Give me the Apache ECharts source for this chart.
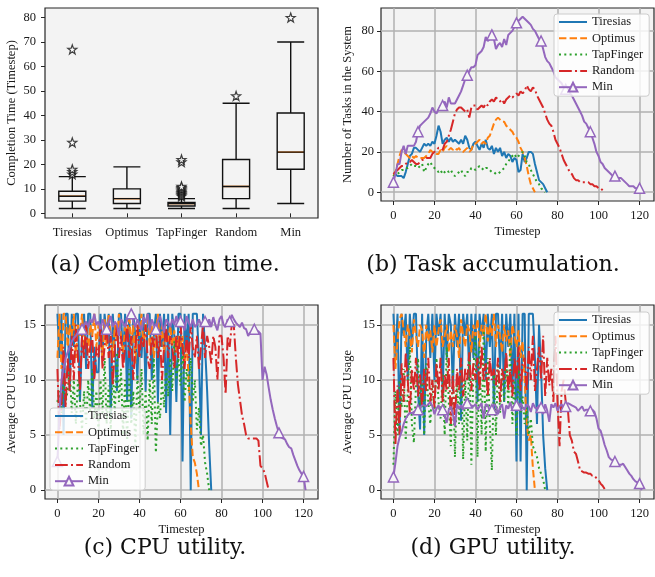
<!DOCTYPE html>
<html lang="en">
<head>
<meta charset="UTF-8">
<title>Scheduling evaluation</title>
<script src="https://cdn.jsdelivr.net/npm/echarts@6.0.0/dist/echarts.min.js"></script>
<style>
  html, body { margin: 0; padding: 0; background: #fff; }
  #main { width: 655px; height: 577px; }
</style>
</head>
<body>
<div id="main"></div>
<script>
// ---- data (a): completion time boxplot ----
var boxNames = ['Tiresias', 'Optimus', 'TapFinger', 'Random', 'Min'];
// [low whisker, Q1, median, Q3, high whisker]
var boxStats = [
    [2, 5, 7, 9, 15],
    [2, 4, 6, 10, 19],
    [2, 3, 4, 4.5, 6],
    [2, 6, 11, 22, 45],
    [4, 18, 25, 41, 70]
];
var boxOutliers = [
    [16, 17, 18, 29, 67],
    [],
    [7, 7.5, 8, 8.5, 9, 9.5, 10, 10.5, 11, 21, 22],
    [48],
    [80]
];
var ticksA = [0, 10, 20, 30, 40, 50, 60, 70, 80];

// ---- data (b): number of tasks in the system, one value per timestep ----
var taskTiresias = [9,9,8,8,8,7,10,14,18,19, 22,22,21,20,22,24,23,24,23,25, 24,28,33,30,24,26,27,25,27,25,
    26,25,24,26,24,28,26,22,21,24, 25,23,21,24,22,26,22,21,23,19, 22,20,22,18,20,17,19,18,15,17,
    16,10,11,19,15,17,20,20,19,14, 10,6,5,4,2,0];
var taskOptimus = [8,10,14,18,21,20,19,18,17,18, 17,18,17,17,17,17,18,19,21,20, 20,19,19,21,20,22,23,21,22,21,
    22,21,22,20,20,21,22,20,21,24, 24,25,26,24,25,24,27,28,31,34, 36,37,36,35,35,33,32,31,30,28,
    27,25,22,20,17,13,8,4,2,0];
var taskTapFinger = [8,9,9,10,11,11,12,12,13,14, 13,13,12,13,14,10,12,14,15,13, 12,11,10,11,9,10,11,10,11,9,
    8,9,10,11,9,8,10,10,12,12, 11,12,13,12,11,12,12,11,10,10, 9,9,10,11,12,14,15,17,18,19,
    17,18,19,20,18,15,14,11,9,7, 5,4,2,1,0];
var taskRandom = [9,10,11,12,13,13,14,15,15,16, 15,14,14,15,16,16,17,17,17,19, 20,21,22,22,21,24,25,28,31,35,
    39,41,42,42,41,40,41,37,42,43, 43,41,42,43,42,44,43,45,46,45, 47,46,45,46,44,46,47,48,47,48,
    49,48,50,49,50,53,51,50,52,51, 48,46,44,42,39,36,34,33,30,26, 24,22,19,16,14,12,10,9,7,6,
    6,5,5,5,5,5,4,4,3,3, 2,2,1,0];
var taskMin = [5,9,14,14,20,23,19,23,23,23, 23,25,30,33,34,35,36,37,39,42, 40,39,41,43,43,45,42,47,44,44,
    44,46,48,50,53,56,58,60,62,62, 63,68,69,70,72,77,75,76,78,76, 71,73,74,72,76,73,78,79,80,82,
    84,85,86,87,86,85,84,83,81,80, 78,76,75,71,67,65,64,62,60,57, 56,55,54,52,51,50,49,48,46,44,
    42,40,38,35,34,32,30,27,24,20, 18,15,14,12,11,10,9,8,8,7, 7,7,6,5,4,3,3,3,2,2, 2,1];

// ---- data (c): average CPU usage ----
var cpuTiresias = [16,12,16,5,16,16,9,16,13,16, 16,8,14,16,11,16,16,7.5,13,10.7, 10.7,16,12,16,14,16,6.5,16,13,9,
    16,16,12,16,8,16,6.5,16,14,10, 16,12,16,9,16,16,10,14,16,8, 16,13,16,7,16,5,16,14,8,16,
    16,2.6,16,13,16,0,16,16,16,12, 5,16,13,9,4,0];
var cpuOptimus = [12,16,11,16,16,13,15,14,16,12, 15,14,16,13,15,12.5,15,14,16,13, 15,14,12,15.5,13,16,14,12,15,13.5,
    16,14,12.5,15,14,16,13,15,11.5,15, 14,16,13,15,16,13,15,12,14,16, 13,15,12.5,14,13.5,15,13,14.5,12.5,14,
    13,14,11.5,13.5,10,6,3,2.5,1.5,0];
var cpuTapFinger = [8,9,7,10,8,9,11,7,10,6, 10,8,5.5,9,6,10,7,11,6.5,9, 5.4,10,7,12,6,9.5,5.5,11,7,12.5,
    8,11,5,10,4.5,11,6,9,4,10.5, 7,11,5,9,4.5,10,6,12,3.4,8, 6.5,10,7.5,11,8.5,12,9,13.5,10,12,
    9.5,13,8,11,9,12,8,10,5.5,7.5, 4,5,2.5,1.5,0];
var cpuRandom = [11,5.5,8,13,7.5,12,9,14,10,15, 12,9,14,12,15,11,13,14,10,13, 12,15,11,13,15,12,14,9.5,13,15,
    12,14,11,13,15,12,14,10,13,15, 12,14,13,15,12,11,14,13,15,12, 14,10,13,15,12,14,13,11,14,12,
    15,13,11,14,12,15,13,12,14,11, 13,15,12,14,13,11.5,14,13,10,14, 14,12,8.7,14,13,15,15,12,9.6,8.2,
    6.8,6,5,4.7,4.7,4.7,4.7,4.7,4.5,2.2, 2,1.6,0.8,0];
var cpuMin = [2.6,7,10,11,12,12.5,13,13.5,13.8,14, 14.3,14.5,14.6,15,15.3,14.8,15.5,15.2,16,15,
    15.3,14.6,15.5,15,14.6,15.3,15.8,14.8,15.3,15, 14,15.5,15.2,14.8,15.5,15.7,16,15.3,14.8,15.5,
    15,14.5,15.7,15.2,16,14.5,15.5,15,14.6,15.3, 15.8,15,14.3,15.5,15.2,14.8,15.5,15,15.8,14.8,
    15.3,15,14.5,15.8,15.2,14.8,15.5,14.8,15,15.5, 15,14.8,15.3,15,15.5,14.8,15.7,15,14.5,15.5,
    15.8,15,14.8,15.5,15.3,15.9,15.5,15.2,15,14.8, 15.2,14.7,14.6,14,14.3,14.4,14.6,14.5,14.4,14.2,
    10,11.2,10.5,9.3,8.2,7.3,6.5,5.8,5.2,4.8, 4.7,4.6,4.2,3.9,3.8,3.2,2.7,2.2,1.8,1.5, 1.25,0];

// ---- data (d): average GPU usage ----
var gpuTiresias = [16,12,16,5,16,14,16,10,16,13, 16,16,9,5.5,16,5,14,16,12,16, 10,16,14,16,8.5,16,12,16,15,9,
    16,13,16,6.3,16,14,16,10,16,12, 16,8,16,14,16,10,16,13,16,7, 16,16,11,16,8,16,13,16,9,16,
    2.6,16,2.6,16,16,0,16,16,16,12, 6,15,11,5,2,0];
var gpuOptimus = [15,11,13.5,15.5,16,14.5,13,15,14,12.5, 15.5,14,13,15,14.5,12,15,13.5,14.5,12.5,
    15,13,14.5,15.5,13,14,15,12.5,14.5,13, 15,14,12,15.5,14,13,15,14.5,12.5,15,
    14,15.5,13,15,14,16,13.5,15,14,16, 13,15,14,12.5,15,13.5,14.5,12,15,14,
    13,14.5,12,13.5,10,6,4.5,5,2,0];
var gpuTapFinger = [2.3,9,5,10,7.5,11,4.5,9,13,6, 4.3,9.5,12,7,10,5,11.5,8,6,10, 7,12,8,6.5,10.5,5,13,8,4,11,
    3,10,6,12,2.8,10,4.5,12.5,2.3,11, 14,3,13,5,14.5,3.5,12,6,1.8,10.5, 5,12,7,11,8,12,7.5,13.5,6,10,
    5,11,7,8.5,6,7.5,5,6.5,4,3.5, 3,2,1.5,1,0];
var gpuRandom = [12,4.2,9.5,5,11.5,8,12.5,10,7,11, 9,12,8.5,10.5,7.5,11,9,12,8,10, 7.5,11.5,9,12,8,10.5,9,12,6,10.5,
    5.8,11,9,12,8.5,11,10,12.5,9,11.5, 10,12,9,13,10,11.5,8.5,12,10,11, 9.5,12,8,11,10,12.5,9,11,8.5,12,
    10,13,9,11.5,12,9,13,10,14,9, 11,13,10,14,8.5,12,9.5,11,8,14, 8,4,9,10,8,7.5,5,4.5,3.5,3.3,
    2.6,1.8,1.7,1.6,1.6,1.5,1.5,1.3,1.3,1.1, 0.9,0.6,0.4,0.1];
var gpuMin = [1.2,2.5,4,4.8,5.3,6,6.5,6.8,7,7, 7.1,7.2,7.3,7.5,7.7,7.7,7.6,7.8,8,7.6,
    6.9,7.4,7.7,7.2,7.3,6.8,6.1,7.3,7.6,6.9, 5.8,7.8,7.4,7.7,7.3,7.9,7.9,7.6,7.7,7.6,
    7.8,7.3,7.6,7.9,6.5,7.8,7.7,7.2,7.3,7.8, 7.6,6.9,7.5,7.8,6.5,7.7,7.4,8,7.2,7.6,
    7.7,7.4,7.9,7.5,7.3,7.8,7.6,7.1,7.9,7.5, 7.4,7.7,7.5,6.9,7.8,7.2,6.2,7.8,7.5,7.9,
    7.2,7.6,7.8,7.4,7.6,7.9,7.8,7.7,7.6,7.5, 7.2,7.4,7.6,7.2,7.3,7.3,7.2,7.3,7.1,6.5,
    5.6,5.4,4.8,4.1,3.6,3.0,2.8,2.7,2.6,2.4, 2.3,2.3,2.4,2.1,1.8,1.5,1.3,1.0,0.8,0.7, 0.6,0];

var ticksTime = [0, 20, 40, 60, 80, 100, 120];
var ticksTasks = [0, 20, 40, 60, 80];
var ticksUsage = [0, 5, 10, 15];
var seriesNames = ['Tiresias', 'Optimus', 'TapFinger', 'Random', 'Min'];

// ---- styles ----
var serif = 'Liberation Serif';
var ink = '#1a1a1a';
var lineStyles = {
    Tiresias: { color: '#1f77b4', type: 'solid' },
    Optimus: { color: '#ff7f0e', type: [7.4, 3.2] },
    TapFinger: { color: '#2ca02c', type: [2, 3.3] },
    Random: { color: '#d62728', type: [12.8, 3.2, 2, 3.2] },
    Min: { color: '#9467bd', type: 'solid' }
};
var starPath = 'path://M0,-10L2.35,-3.24L9.51,-3.09L3.8,1.24L5.88,8.09L0,4L-5.88,8.09L-3.8,1.24L-9.51,-3.09L-2.35,-3.24Z';

function gridAt(left, top, width, height) {
    return {
        left: left, top: top, width: width, height: height,
        show: true, backgroundColor: '#f3f3f3', borderColor: '#262626', borderWidth: 1.2,
        outerBoundsMode: 'none', containLabel: false
    };
}

function valueAxis(gi, min, max, ticks, opts) {
    return {
        type: 'value', gridIndex: gi, min: min, max: max,
        name: opts.name, nameLocation: 'middle', nameGap: opts.nameGap,
        nameTextStyle: { fontFamily: serif, fontSize: 12.5, color: ink },
        axisLine: { show: false, onZero: false },
        axisTick: { show: true, inside: false, length: 4, customValues: ticks, lineStyle: { color: '#262626', width: 1 } },
        axisLabel: { customValues: ticks, margin: opts.margin, fontFamily: serif, fontSize: 12.5, color: ink },
        splitLine: { show: opts.grid, lineStyle: { color: '#b0b0b0', width: 1.5 } }
    };
}

function lineSeries(name, arr, gi) {
    var st = lineStyles[name];
    var isMin = name === 'Min';
    return {
        name: name, type: 'line', xAxisIndex: gi, yAxisIndex: gi,
        data: arr.map(function (v, i) {
            return isMin ? { value: [i, v], symbol: i % 12 === 0 ? 'triangle' : 'none' } : [i, v];
        }),
        symbol: isMin ? 'triangle' : 'none', symbolSize: 10,
        showSymbol: isMin, showAllSymbol: true,
        lineStyle: { color: st.color, width: 2, type: st.type },
        itemStyle: { color: '#f7f7f7', borderColor: st.color, borderWidth: 1.5 },
        emphasis: { disabled: true }, silent: true
    };
}

function legendAt(left, top) {
    return {
        left: left, top: top, orient: 'vertical', selectedMode: false,
        data: seriesNames.map(function (n) {
            var st = lineStyles[n];
            var item = { name: n, lineStyle: { width: 2, color: st.color, type: st.type } };
            if (n !== 'Min') item.itemStyle = { opacity: 0 };
            return item;
        }),
        itemWidth: 28, itemHeight: 11, itemGap: 2.3, padding: [1, 6, 2, 4],
        backgroundColor: 'rgba(255,255,255,0.8)', borderColor: '#cccccc', borderWidth: 1, borderRadius: 3,
        textStyle: { fontFamily: serif, fontSize: 12.5, color: ink, lineHeight: 14 }
    };
}

function caption(text, x, y) {
    return {
        type: 'text', x: x, y: y,
        style: { text: text, fill: '#111', font: '22px "DejaVu Serif"', align: 'center', verticalAlign: 'middle' }
    };
}

var chart = echarts.init(document.getElementById('main'), null, { renderer: 'canvas' });

var series = [];
// (a) boxplot
series.push({
    type: 'boxplot', xAxisIndex: 0, yAxisIndex: 0, data: boxStats, boxWidth: [27, 27],
    itemStyle: { color: 'rgba(0,0,0,0)', borderColor: '#111', borderWidth: 1.4 },
    emphasis: { disabled: true }, silent: true
});
series.push({
    type: 'custom', xAxisIndex: 0, yAxisIndex: 0, silent: true,
    data: boxStats.map(function (b, i) { return [i, b[2]]; }),
    renderItem: function (params, api) {
        var c = api.coord([api.value(0), api.value(1)]);
        var w = 27;
        return { type: 'line', shape: { x1: c[0] - w / 2, y1: c[1], x2: c[0] + w / 2, y2: c[1] },
            style: { stroke: '#ff7f0e', lineWidth: 1.5 } };
    }
});
var outlierPts = [];
boxOutliers.forEach(function (list, i) { list.forEach(function (v) { outlierPts.push([i, v]); }); });
series.push({
    type: 'scatter', xAxisIndex: 0, yAxisIndex: 0, data: outlierPts, symbol: starPath, symbolSize: 9,
    itemStyle: { color: '#ffffff', borderColor: '#111', borderWidth: 1.2 }, silent: true
});

var taskData = [taskTiresias, taskOptimus, taskTapFinger, taskRandom, taskMin];
var cpuData = [cpuTiresias, cpuOptimus, cpuTapFinger, cpuRandom, cpuMin];
var gpuData = [gpuTiresias, gpuOptimus, gpuTapFinger, gpuRandom, gpuMin];
seriesNames.forEach(function (n, k) { series.push(lineSeries(n, taskData[k], 1)); });
seriesNames.forEach(function (n, k) { series.push(lineSeries(n, cpuData[k], 2)); });
seriesNames.forEach(function (n, k) { series.push(lineSeries(n, gpuData[k], 3)); });

var option = {
    animation: false,
    backgroundColor: '#ffffff',
    grid: [
        gridAt(45, 8, 273, 210),
        gridAt(381, 8, 273, 193),
        gridAt(45, 305, 273, 194),
        gridAt(381, 305, 273, 194)
    ],
    xAxis: [
        {
            type: 'category', gridIndex: 0, data: boxNames, boundaryGap: true,
            axisLine: { show: false },
            axisTick: { show: true, alignWithLabel: true, length: 4, lineStyle: { color: '#262626' } },
            axisLabel: { margin: 8, fontFamily: serif, fontSize: 12.5, color: ink, interval: 0 },
            splitLine: { show: false }
        },
        valueAxis(1, -6.05, 127.05, ticksTime, { name: 'Timestep', nameGap: 24, margin: 8, grid: true }),
        valueAxis(2, -6.05, 127.05, ticksTime, { name: 'Timestep', nameGap: 24, margin: 8, grid: true }),
        valueAxis(3, -6.05, 127.05, ticksTime, { name: 'Timestep', nameGap: 24, margin: 8, grid: true })
    ],
    yAxis: [
        valueAxis(0, -1.9, 83.9, ticksA, { name: 'Completion Time (Timestep)', nameGap: 27, margin: 9, grid: false }),
        valueAxis(1, -4.35, 91.35, ticksTasks, { name: 'Number of Tasks in the System', nameGap: 27, margin: 7, grid: true }),
        valueAxis(2, -0.8, 16.8, ticksUsage, { name: 'Average CPU Usage', nameGap: 27, margin: 9, grid: true }),
        valueAxis(3, -0.8, 16.8, ticksUsage, { name: 'Average GPU Usage', nameGap: 27, margin: 6, grid: true })
    ],
    legend: [legendAt(554, 14), legendAt(50, 408), legendAt(554, 312)],
    graphic: [
        caption('(a) Completion time.', 165, 265),
        caption('(b) Task accumulation.', 493, 265),
        caption('(c) CPU utility.', 165, 548),
        caption('(d) GPU utility.', 493, 548)
    ],
    series: series
};
chart.setOption(option);
</script>
</body>
</html>
